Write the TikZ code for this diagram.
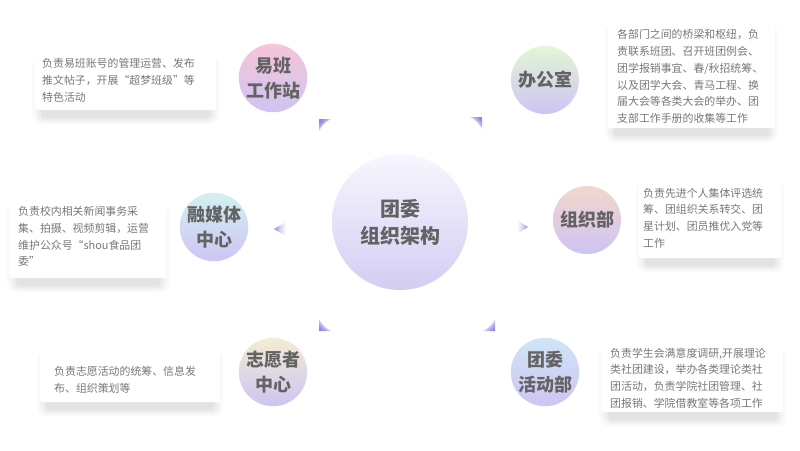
\documentclass[tikz,border=0pt]{standalone}
\usepackage{fontspec}
\newfontfamily\cjk{Noto Sans CJK SC}
\pgfdeclarelayer{bg}
\pgfdeclarelayer{sh}
\pgfsetlayers{bg,sh,main}
\definecolor{txt}{HTML}{787878}
\definecolor{head}{HTML}{636363}
\definecolor{markc}{HTML}{9188E0}
\definecolor{lavA}{HTML}{CEC4F3}
\definecolor{pinkA}{HTML}{F6C5D8}
\definecolor{greenA}{HTML}{E3F6D6}
\definecolor{cyanA}{HTML}{D2F1F0}
\definecolor{peachA}{HTML}{F3D6CB}
\definecolor{beigeA}{HTML}{F3EDD3}
\definecolor{blueA}{HTML}{CFE6F6}
\definecolor{centA}{HTML}{F8F6FE}
\definecolor{centB}{HTML}{D3CDF3}
\tikzset{
  bubble/.style={circle, minimum size=68pt, inner sep=0pt, align=center, text=head,
    bottom color=lavA, font=\cjk\bfseries\fontsize{18}{25}\selectfont},
  infobox/.style={rectangle, fill=white, rounded corners=2pt, inner sep=0pt, anchor=north west},
  info/.style={anchor=west, align=left, text=txt, inner sep=0pt, font=\cjk\fontsize{10.9}{16.7}\selectfont},
  markshade/.style={top color=markc, bottom color=white, middle color=markc!35},
  shlayer/.style={fill=black, opacity=#1},
}
\newcommand\boxshadow[1]{%
  \fill[shlayer=0.018, rounded corners=10pt] ([xshift=-3pt,yshift=-1pt]#1.north west) rectangle ([xshift=3pt,yshift=-14pt]#1.south east);
  \fill[shlayer=0.025, rounded corners=8pt] ([xshift=0pt,yshift=-3pt]#1.north west) rectangle ([xshift=0pt,yshift=-12pt]#1.south east);
  \fill[shlayer=0.03, rounded corners=6pt] ([xshift=3pt,yshift=-5pt]#1.north west) rectangle ([xshift=-3pt,yshift=-10pt]#1.south east);
  \fill[shlayer=0.035, rounded corners=4pt] ([xshift=6pt,yshift=-7pt]#1.north west) rectangle ([xshift=-6pt,yshift=-8pt]#1.south east);
}
\begin{document}
\begin{tikzpicture}[x=1pt,y=-1pt]
\begin{pgfonlayer}{bg}
\fill[white] (0,0) rectangle (800,450);
\end{pgfonlayer}
\useasboundingbox (0,0) rectangle (800,450);

% info boxes
\node[infobox, minimum width=181pt, minimum height=55pt] (b1) at (35,55) {};
\node[infobox, minimum width=167pt, minimum height=105pt] (b2) at (608,23) {};
\node[infobox, minimum width=156pt, minimum height=77pt] (b3) at (10,201) {};
\node[infobox, minimum width=142pt, minimum height=79pt] (b4) at (639,179) {};
\node[infobox, minimum width=180pt, minimum height=53pt] (b5) at (40,349) {};
\node[infobox, minimum width=181pt, minimum height=67pt] (b6) at (602,345) {};
\begin{pgfonlayer}{sh}
\boxshadow{b1}\boxshadow{b2}\boxshadow{b3}\boxshadow{b4}\boxshadow{b5}\boxshadow{b6}
\end{pgfonlayer}

\node[info] (t1) at (42,80.5) {负责易班账号的管理运营、发布\\推文帖子，开展“超梦班级”等\\特色活动};
\node[info] (t2) at (617,76.5) {各部门之间的桥梁和枢纽，负\\责联系班团、召开班团例会、\\团学报销事宜、春/秋招统筹、\\以及团学大会、青马工程、换\\届大会等各类大会的举办、团\\支部工作手册的收集等工作};
\node[info] (t3) at (18,236.5) {负责校内相关新闻事务采\\集、拍摄、视频剪辑，运营\\维护公众号“shou食品团\\委”};
\node[info] (t4) at (643,218) {负责先进个人集体评选统\\筹、团组织关系转交、团\\星计划、团员推优入党等\\工作};
\node[info] (t5) at (54,380) {负责志愿活动的统筹、信息发\\布、组织策划等};
\node[info] (t6) at (610,378) {负责学生会满意度调研,开展理论\\类社团建设，举办各类理论类社\\团活动，负责学院社团管理、社\\团报销、学院借教室等各项工作};

% circles
\node[bubble, minimum size=136pt, top color=centA, bottom color=centB,
  font=\cjk\bfseries\fontsize{20}{27}\selectfont] (c0) at (400,222) {团委\\组织架构};
\node[bubble, top color=pinkA] (c1) at (273,78) {易班\\工作站};
\node[bubble, top color=greenA] (c2) at (545,80) {办公室};
\node[bubble, top color=cyanA] (c3) at (214,227) {融媒体\\中心};
\node[bubble, top color=peachA] (c4) at (587,220) {组织部};
\node[bubble, top color=beigeA] (c5) at (273,372) {志愿者\\中心};
\node[bubble, top color=blueA] (c6) at (545,372) {团委\\活动部};

% pointer marks around the centre
\shade[markshade, shading angle=45] (319,119) -- (331,119) .. controls (325,122) and (322,125) .. (319,131) -- cycle;
\shade[markshade, shading angle=-45] (482,117) -- (482,129) .. controls (479,123) and (476,120) .. (470,117) -- cycle;
\shade[markshade, shading angle=135] (319,331) -- (319,319) .. controls (322,325) and (325,328) .. (331,331) -- cycle;
\shade[markshade, shading angle=-135] (495,331) -- (483,331) .. controls (489,328) and (492,325) .. (495,319) -- cycle;
\shade[markshade, shading angle=90] (274,229) -- (286,222) -- (286,236) -- cycle;
\shade[markshade, shading angle=-90] (528,227) -- (517,220) -- (517,234) -- cycle;
\end{tikzpicture}
\end{document}
